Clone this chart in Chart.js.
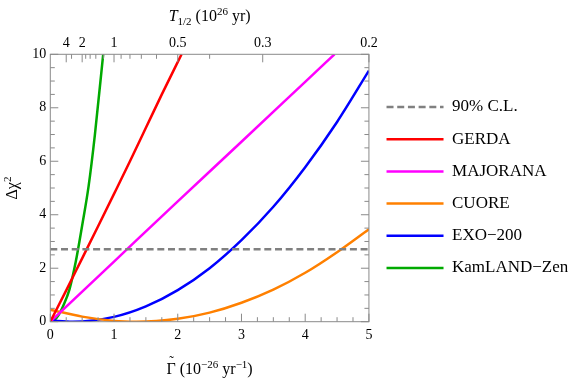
<!DOCTYPE html>
<html>
<head>
<meta charset="utf-8">
<script src="https://cdn.jsdelivr.net/npm/chart.js@4"></script>
<style>html,body{margin:0;padding:0;background:#fff}</style>
</head>
<body>
<canvas id="myChart" width="581" height="380"></canvas>
<script>
// Data (x = Gamma in 1e-26 /yr, y = delta chi^2)
const clX = [0, 5];
const clY = [2.71, 2.71];
const gerdaX = [0, 0.25, 0.5, 0.75, 1.0, 1.25, 1.5, 1.75, 2.06];
const gerdaY = [0, 1.17, 2.37, 3.57, 4.78, 6.0, 7.25, 8.5, 10];
const majoranaX = [0, 1, 2, 3, 4, 4.46];
const majoranaY = [0, 2.25, 4.5, 6.73, 8.97, 10];
const cuoreX = [0, 0.5, 1, 1.35, 2, 2.5, 3, 3.5, 4, 4.5, 5];
const cuoreY = [0.45, 0.19, 0.03, 0, 0.11, 0.34, 0.71, 1.2, 1.83, 2.6, 3.46];
const exoX = [0, 0.35, 1, 1.5, 2, 2.5, 3, 3.5, 4, 4.5, 5];
const exoY = [0.05, 0, 0.18, 0.57, 1.18, 2.0, 3.05, 4.3, 5.78, 7.47, 9.39];
const kamlandX = [0, 0.05, 0.1, 0.15, 0.2, 0.3, 0.4, 0.5, 0.6, 0.7, 0.83];
const kamlandY = [0, 0.04, 0.15, 0.33, 0.58, 1.2, 2.25, 3.6, 5.05, 7.0, 10];

// Tick labels
const bottomTicks = [0, 1, 2, 3, 4, 5];
const leftTicks = [0, 2, 4, 6, 8, 10];
const topMajor = [4, 2, 1, 0.5, 0.3, 0.2];   // T_1/2 values, position = 1/T
const topMinor = [3, 1.8, 1.6, 1.4, 1.2, 0.9, 0.8, 0.7, 0.6, 0.4];

const serif = "'Liberation Serif', 'Times New Roman', serif";

function pts(xs, ys){
    return xs.map((x, i) => ({x: x, y: ys[i]}));
}

function series(label, xs, ys, color, dash){
    return {
        label: label,
        data: pts(xs, ys),
        borderColor: color,
        backgroundColor: color,
        borderWidth: 2.5,
        borderDash: dash || [],
        pointRadius: 0,
        cubicInterpolationMode: 'monotone',
        fill: false
    };
}

// Frame + inward ticks + rich axis titles
const framePlugin = {
    id: 'frame',
    afterDraw(chart){
        const c = chart.ctx;
        const a = chart.chartArea;
        const xs = chart.scales.x, ys = chart.scales.y;
        c.save();
        c.strokeStyle = '#8a8a8a';
        c.lineWidth = 1;
        c.strokeRect(a.left, a.top, a.right - a.left, a.bottom - a.top);
        c.beginPath();
        // bottom ticks (major 1, minor 0.25)
        for (let v = 0; v <= 5.001; v += 0.25){
            const px = xs.getPixelForValue(v);
            const len = Math.abs(v - Math.round(v)) < 1e-6 ? 8 : 4.5;
            c.moveTo(px, a.bottom); c.lineTo(px, a.bottom - len);
        }
        // left and right ticks (major 2, minor 0.5)
        for (let v = 0; v <= 10.001; v += 0.5){
            const py = ys.getPixelForValue(v);
            const len = Math.abs(v / 2 - Math.round(v / 2)) < 1e-6 ? 8 : 4.5;
            c.moveTo(a.left, py); c.lineTo(a.left + len, py);
            c.moveTo(a.right, py); c.lineTo(a.right - len, py);
        }
        // top ticks
        topMajor.forEach(t => {
            const px = xs.getPixelForValue(1 / t);
            c.moveTo(px, a.top); c.lineTo(px, a.top + 8);
        });
        topMinor.forEach(t => {
            const px = xs.getPixelForValue(1 / t);
            c.moveTo(px, a.top); c.lineTo(px, a.top + 4.5);
        });
        c.stroke();

        // axis titles
        const cx = (a.left + a.right) / 2;
        drawRich(c, [
            {t: 'T', f: 'italic 16px ' + serif, dy: 0},
            {t: '1/2', f: '11px ' + serif, dy: 4},
            {t: ' (10', f: '16px ' + serif, dy: 0},
            {t: '26', f: '11px ' + serif, dy: -6},
            {t: ' yr)', f: '16px ' + serif, dy: 0}
        ], cx, 21);
        const gx = drawRich(c, [
            {t: 'Γ', f: '16px ' + serif, dy: 0},
            {t: ' (10', f: '16px ' + serif, dy: 0},
            {t: '\u221226', f: '11px ' + serif, dy: -6},
            {t: ' yr', f: '16px ' + serif, dy: 0},
            {t: '\u22121', f: '11px ' + serif, dy: -6},
            {t: ')', f: '16px ' + serif, dy: 0}
        ], cx, 374);
        // tilde over the Gamma
        c.font = '14px ' + serif;
        c.textAlign = 'center';
        c.fillText('\u02DC', gx + 5, 366);
        c.textAlign = 'left';
        c.save();
        c.translate(17, (a.top + a.bottom) / 2);
        c.rotate(-Math.PI / 2);
        drawRich(c, [
            {t: 'Δχ', f: '16px ' + serif, dy: 0},
            {t: '2', f: '11px ' + serif, dy: -6}
        ], 0, 0);
        c.restore();
        c.restore();
    }
};

function drawRich(c, parts, x, y){
    let w = 0;
    parts.forEach(p => { c.font = p.f; w += c.measureText(p.t).width; });
    let px = x - w / 2;
    const start = px;
    c.fillStyle = '#000';
    c.textBaseline = 'alphabetic';
    c.textAlign = 'left';
    parts.forEach(p => {
        c.font = p.f;
        c.fillText(p.t, px, y + p.dy);
        px += c.measureText(p.t).width;
    });
    return start;
}

// Legend items keep the dataset line style (dash + width)
function legendLabels(chart){
    return Chart.defaults.plugins.legend.labels.generateLabels(chart).map(item => {
        const ds = chart.data.datasets[item.datasetIndex];
        item.lineDash = ds.borderDash;
        item.lineWidth = ds.borderWidth;
        item.strokeStyle = ds.borderColor;
        return item;
    });
}

const ctx = document.getElementById('myChart').getContext('2d');
const myChart = new Chart(ctx, {
    type: 'line',
    data: {
        datasets: [
            series('90% C.L.', clX, clY, '#808080', [7, 3.7]),
            series('GERDA', gerdaX, gerdaY, '#ff0000'),
            series('MAJORANA', majoranaX, majoranaY, '#ff00ff'),
            series('CUORE', cuoreX, cuoreY, '#ff8000'),
            series('EXO\u2212200', exoX, exoY, '#0000ff'),
            series('KamLAND\u2212Zen', kamlandX, kamlandY, '#00aa00')
        ]
    },
    options: {
        responsive: false,
        animation: false,
        layout: {padding: {top: 0, bottom: 5, left: 0, right: 2.7}},
        plugins: {
            tooltip: {enabled: false},
            legend: {
                position: 'right',
                maxWidth: 300,
                labels: {
                    usePointStyle: true,
                    pointStyle: 'line',
                    pointStyleWidth: 57,
                    padding: 15.2,
                    color: '#000',
                    font: {family: serif, size: 17},
                    generateLabels: legendLabels
                }
            }
        },
        scales: {
            x: {
                type: 'linear',
                position: 'bottom',
                min: 0, max: 5,
                afterBuildTicks: s => { s.ticks = bottomTicks.map(v => ({value: v})); },
                ticks: {color: '#000', font: {family: serif, size: 14}, padding: 5, maxRotation: 0, autoSkip: false},
                grid: {display: false, drawTicks: false},
                border: {display: false},
                afterFit: s => { s.height = 53.3; }
            },
            x2: {
                type: 'linear',
                position: 'top',
                min: 0, max: 5,
                afterBuildTicks: s => { s.ticks = topMajor.map(t => ({value: 1 / t})); },
                ticks: {
                    color: '#000', font: {family: serif, size: 14}, padding: 3, maxRotation: 0, autoSkip: false,
                    callback: v => String(Math.round(100 / v) / 100)
                },
                grid: {display: false, drawTicks: false},
                border: {display: false},
                afterFit: s => { s.height = 54.3; }
            },
            y: {
                type: 'linear',
                position: 'left',
                min: 0, max: 10,
                afterBuildTicks: s => { s.ticks = leftTicks.map(v => ({value: v})); },
                ticks: {color: '#000', font: {family: serif, size: 14}, padding: 4},
                grid: {display: false, drawTicks: false},
                border: {display: false},
                afterFit: s => { s.width = 50.3; }
            },
            y2: {
                type: 'linear',
                position: 'right',
                min: 0, max: 10,
                ticks: {display: false},
                grid: {display: false, drawTicks: false},
                border: {display: false},
                afterFit: s => { s.width = 2.4; }
            }
        }
    },
    plugins: [framePlugin]
});
</script>
</body>
</html>
